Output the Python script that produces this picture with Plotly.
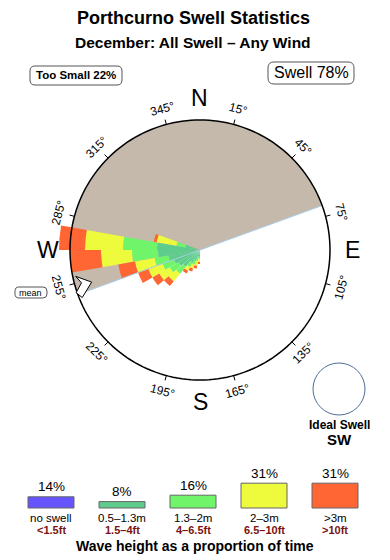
import math
import plotly.graph_objects as go

W, H = 390, 560
CX, CY = 200, 250          # rose centre (px)
R_CIRCLE = 130             # compass circle radius (radial units = px)
R_RANGE = 150

# ---------------- data ----------------
sectors = [185, 195, 205, 215, 225, 235, 245, 255, 265, 275, 285]
sector_width = 10
no_swell = [1, 1, 1, 1, 1, 1, 1, 1, 2, 2, 1]
h_05_13 = [5, 7, 10, 14, 21, 24, 27, 31, 40, 41, 14]
h_13_2 = [3, 4, 5, 5, 9, 10, 12, 14, 26, 34, 9]
h_2_3 = [3, 4, 4, 4, 10, 12, 15, 20, 31, 38, 20]
h_gt3 = [2, 3, 3, 3, 6, 8, 11, 17, 31, 26, 3]

window_start, window_end = 250, 70     # "too small" shadowed half
mean_dir = 253

tick_angles = [345, 15, 45, 75, 105, 135, 165, 195, 225, 255, 285, 315]
compass = [("N", 0), ("E", 90), ("S", 180), ("W", 270)]

legend_pct = [14, 8, 16, 31, 31]
legend_m = ["no swell", "0.5\u20131.3m", "1.3\u20132m", "2\u20133m", ">3m"]
legend_ft = ["<1.5ft", "1.5\u20134ft", "4\u20136.5ft", "6.5\u201310ft", ">10ft"]

too_small_pct = 22
swell_pct = 78

colors = ["#6655ff", "#5ecc8c", "#70f56a", "#eefa3c", "#ff6633"]
GREY = "#c5b9ac"
FONT = "Liberation Sans, Arial, sans-serif"


def P(x, y):
    return x / W, 1 - y / H


def polar_px(r, bearing):
    a = math.radians(bearing)
    return CX + r * math.sin(a), CY - r * math.cos(a)


fig = go.Figure()

# grey "too small" half disk
span = (window_end - window_start) % 360
fig.add_trace(go.Barpolar(r=[R_CIRCLE], theta=[(window_start + span / 2) % 360], width=[span],
                          marker=dict(color=GREY, line=dict(width=0)), showlegend=False,
                          hoverinfo="skip"))
# light boundary line
fig.add_trace(go.Scatterpolar(r=[R_CIRCLE, 0, R_CIRCLE], theta=[window_end, window_end, window_start],
                              mode="lines", line=dict(color="#a9cbe3", width=1),
                              showlegend=False, hoverinfo="skip"))

# stacked swell rose
for vals, col in zip([no_swell, h_05_13, h_13_2, h_2_3, h_gt3], colors):
    fig.add_trace(go.Barpolar(r=vals, theta=sectors, width=[sector_width] * len(sectors),
                              marker=dict(color=col, line=dict(width=0)),
                              showlegend=False, hoverinfo="skip"))

# compass circle
circ_t = list(range(0, 361, 2))
fig.add_trace(go.Scatterpolar(r=[R_CIRCLE] * len(circ_t), theta=circ_t, mode="lines",
                              line=dict(color="black", width=1.5), showlegend=False,
                              hoverinfo="skip"))
# ticks
tr, tt = [], []
for a in tick_angles:
    tr += [R_CIRCLE, R_CIRCLE + 5, None]
    tt += [a, a, None]
fig.add_trace(go.Scatterpolar(r=tr, theta=tt, mode="lines", line=dict(color="black", width=1),
                              showlegend=False, hoverinfo="skip"))

# mean direction arrow (pointing inward)
fig.add_trace(go.Scatterpolar(r=[113, 127, 123, 131, 127, 113],
                              theta=[mean_dir + 0.5, mean_dir + 5, mean_dir + 1.5, mean_dir - 2,
                                     mean_dir - 5, mean_dir + 0.5],
                              mode="lines", fill="toself", fillcolor="white",
                              line=dict(color="black", width=1), showlegend=False,
                              hoverinfo="skip"))

dx0, dx1 = (CX - R_RANGE) / W, (CX + R_RANGE) / W
dy0, dy1 = 1 - (CY + R_RANGE) / H, 1 - (CY - R_RANGE) / H

annotations = []
shapes = []


def text(x, y, s, size, color="black", bold=False, angle=0):
    if bold:
        s = "<b>" + s + "</b>"
    px, py = P(x, y)
    annotations.append(dict(x=px, y=py, xref="paper", yref="paper", text=s, showarrow=False,
                            xanchor="center", yanchor="middle", textangle=angle,
                            font=dict(family=FONT, size=size, color=color)))


def rrect(x0, y0, x1, y1, r, color="#555", width=1):
    def q(x, y):
        a, b = P(x, y)
        return f"{a:.5f},{b:.5f}"
    path = (f"M {q(x0 + r, y0)} L {q(x1 - r, y0)} Q {q(x1, y0)} {q(x1, y0 + r)} "
            f"L {q(x1, y1 - r)} Q {q(x1, y1)} {q(x1 - r, y1)} L {q(x0 + r, y1)} "
            f"Q {q(x0, y1)} {q(x0, y1 - r)} L {q(x0, y0 + r)} Q {q(x0, y0)} {q(x0 + r, y0)} Z")
    shapes.append(dict(type="path", xref="paper", yref="paper", path=path,
                       line=dict(color=color, width=width), fillcolor="white", layer="below"))


# titles
text(193, 18, "Porthcurno Swell Statistics", 18, bold=True)
text(193, 43, "December: All Swell \u2013 Any Wind", 15.5, bold=True)

rrect(30, 66, 122, 85, 5)
text(76, 75.5, f"Too Small {too_small_pct}%", 11.5, bold=True)
rrect(268, 62, 354, 84, 6)
text(311, 73, f"Swell {swell_pct}%", 16)

rrect(15, 287, 47, 298, 4)
text(31, 292.5, "mean", 9)

# angle labels
for a in tick_angles:
    x, y = polar_px(R_CIRCLE + 16, a)
    ang = ((a + 90) % 180) - 90
    text(x, y, f"{a}\u00b0", 12, angle=ang)
for lab, a in compass:
    x, y = polar_px(R_CIRCLE + 22, a)
    text(x, y, lab, 23)

# ideal swell
icx, icy, ir = 339, 389, 26
ax0, ay0 = P(icx - ir, icy - ir)
ax1, ay1 = P(icx + ir, icy + ir)
shapes.append(dict(type="circle", xref="paper", yref="paper", x0=ax0, x1=ax1, y0=ay1, y1=ay0,
                   line=dict(color="#4d6f96", width=1)))
text(339, 425, "Ideal Swell", 12, bold=True)
text(339, 439, "SW", 15, bold=True)

# legend
bottom = 508
for i, (pct, m, ft, col) in enumerate(zip(legend_pct, legend_m, legend_ft, colors)):
    cxl = 51 + 71 * i
    hgt = pct * 0.8
    x0, y0 = P(cxl - 23, bottom - hgt)
    x1, y1 = P(cxl + 23, bottom)
    shapes.append(dict(type="rect", xref="paper", yref="paper", x0=x0, x1=x1, y0=y1, y1=y0,
                       fillcolor=col, line=dict(color="#666", width=1)))
    text(cxl, bottom - hgt - 10, f"{pct}%", 13.5)
    text(cxl, 517.5, m, 11.5)
    text(cxl, 530, ft, 11, color="#7a1212", bold=True)
text(195, 546, "Wave height as a proportion of time", 14, bold=True)

fig.update_layout(
    width=W, height=H, margin=dict(l=0, r=0, t=0, b=0),
    paper_bgcolor="white", plot_bgcolor="white",
    polar=dict(
        domain=dict(x=[dx0, dx1], y=[dy0, dy1]),
        bgcolor="rgba(0,0,0,0)",
        barmode="stack",
        radialaxis=dict(range=[0, R_RANGE], visible=False, showgrid=False),
        angularaxis=dict(direction="clockwise", rotation=90, showgrid=False, showline=False,
                         showticklabels=False, ticks=""),
    ),
    annotations=annotations, shapes=shapes, showlegend=False,
)

fig.write_html("out.html")
